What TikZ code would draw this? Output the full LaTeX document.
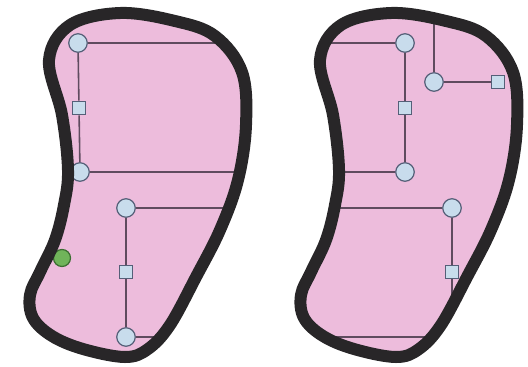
\documentclass[tikz,border=0pt]{standalone}
\usetikzlibrary{positioning}
\definecolor{lobefill}{RGB}{237,188,220}
\definecolor{rimcol}{RGB}{40,38,40}
\definecolor{pincol}{RGB}{200,220,236}
\definecolor{pinedge}{RGB}{85,95,120}
\definecolor{wirecol}{RGB}{95,75,95}
\definecolor{dotgreen}{RGB}{112,180,90}
\definecolor{dotedge}{RGB}{60,110,50}

\begin{document}
\begin{tikzpicture}[
    x=0.02cm, y=-0.02cm,
    rim/.style={draw=rimcol, line width=0.24cm, line join=round},
    joint/.style={circle, draw=pinedge, fill=pincol, line width=0.7pt, minimum size=0.37cm, inner sep=0pt},
    pad/.style={rectangle, draw=pinedge, fill=pincol, line width=0.7pt, minimum size=0.27cm, inner sep=0pt},
    blob/.style={circle, draw=dotedge, fill=dotgreen, line width=0.7pt, minimum size=0.34cm, inner sep=0pt},
    wire/.style={draw=wirecol, line width=0.9pt}
]
    \useasboundingbox (0,0) rectangle (528,366);

    % left lobe
    \fill[lobefill] plot[smooth cycle, tension=0.6] coordinates {(120,13) (175,21) (215,36) (242,72) (246,125) (238,180) (220,230) (196,277) (170,325) (148,349) (125,357) (83,349) (52,336) (33,318) (30,295) (40,272) (55,240) (64,205) (68,170) (62,115) (49,60) (70,25)};
    \begin{scope}
        \clip plot[smooth cycle, tension=0.6] coordinates {(120,13) (175,21) (215,36) (242,72) (246,125) (238,180) (220,230) (196,277) (170,325) (148,349) (125,357) (83,349) (52,336) (33,318) (30,295) (40,272) (55,240) (64,205) (68,170) (62,115) (49,60) (70,25)};
        \node[joint] (ja) at (78,43) {};
        \node[pad] (pa) at (79,108) {};
        \node[joint] (jb) at (80,172) {};
        \node[joint] (jc) at (126,208) {};
        \node[pad] (pb) at (126,272) {};
        \node[joint] (jd) at (126,337) {};
        \node[blob] (gd) at (62,258) {};
        \coordinate (ea) at (250,43);
        \coordinate (eb) at (250,172);
        \coordinate (ec) at (250,208);
        \coordinate (ed) at (250,337);
        \draw[wire] (ja) -- (ea);
        \draw[wire] (ja) -- (pa);
        \draw[wire] (pa) -- (jb);
        \draw[wire] (jb) -- (eb);
        \draw[wire] (jc) -- (ec);
        \draw[wire] (jc) -- (pb);
        \draw[wire] (pb) -- (jd);
        \draw[wire] (jd) -- (ed);
    \end{scope}
    \draw[rim] plot[smooth cycle, tension=0.6] coordinates {(120,13) (175,21) (215,36) (242,72) (246,125) (238,180) (220,230) (196,277) (170,325) (148,349) (125,357) (83,349) (52,336) (33,318) (30,295) (40,272) (55,240) (64,205) (68,170) (62,115) (49,60) (70,25)};

    % right lobe
    \fill[lobefill] plot[smooth cycle, tension=0.6] coordinates {(391,13) (446,21) (486,36) (513,72) (517,125) (509,180) (491,230) (467,277) (441,325) (419,349) (396,357) (354,349) (323,336) (304,318) (301,295) (311,272) (326,240) (335,205) (339,170) (333,115) (320,60) (341,25)};
    \begin{scope}
        \clip plot[smooth cycle, tension=0.6] coordinates {(391,13) (446,21) (486,36) (513,72) (517,125) (509,180) (491,230) (467,277) (441,325) (419,349) (396,357) (354,349) (323,336) (304,318) (301,295) (311,272) (326,240) (335,205) (339,170) (333,115) (320,60) (341,25)};
        \node[joint] (je) at (405,43) {};
        \node[pad] (pc) at (405,108) {};
        \node[joint] (jf) at (405,172) {};
        \node[joint] (jg) at (434,82) {};
        \node[pad] (pd) at (498,82) {};
        \node[joint] (jh) at (452,208) {};
        \node[pad] (pe) at (452,272) {};
        \coordinate (ee) at (300,43);
        \coordinate (ef) at (300,172);
        \coordinate (eg) at (434,0);
        \coordinate (eh) at (300,208);
        \coordinate (ei) at (452,366);
        \coordinate (ej) at (300,337);
        \coordinate (ek) at (480,337);
        \draw[wire] (ee) -- (je);
        \draw[wire] (je) -- (pc);
        \draw[wire] (pc) -- (jf);
        \draw[wire] (ef) -- (jf);
        \draw[wire] (eg) -- (jg);
        \draw[wire] (jg) -- (pd);
        \draw[wire] (eh) -- (jh);
        \draw[wire] (jh) -- (pe);
        \draw[wire] (pe) -- (ei);
        \draw[wire] (ej) -- (ek);
    \end{scope}
    \draw[rim] plot[smooth cycle, tension=0.6] coordinates {(391,13) (446,21) (486,36) (513,72) (517,125) (509,180) (491,230) (467,277) (441,325) (419,349) (396,357) (354,349) (323,336) (304,318) (301,295) (311,272) (326,240) (335,205) (339,170) (333,115) (320,60) (341,25)};
\end{tikzpicture}
\end{document}
